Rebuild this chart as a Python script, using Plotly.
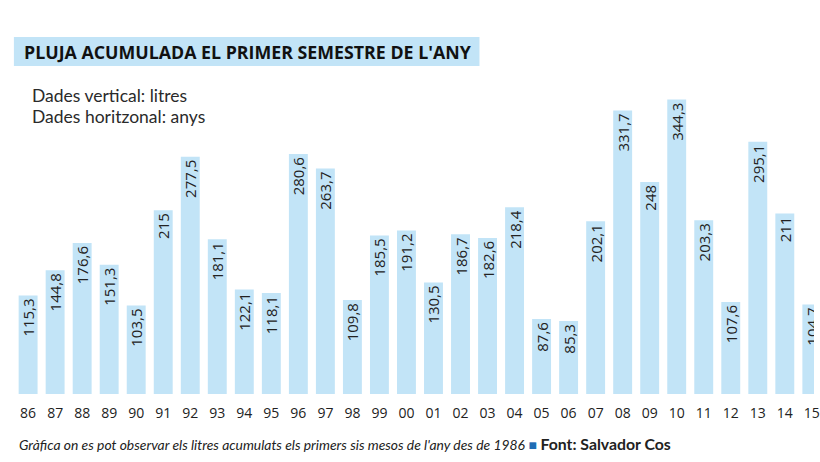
import plotly.graph_objects as go

years = ["86", "87", "88", "89", "90", "91", "92", "93", "94", "95",
         "96", "97", "98", "99", "00", "01", "02", "03", "04", "05",
         "06", "07", "08", "09", "10", "11", "12", "13", "14", "15"]
rain = [115.3, 144.8, 176.6, 151.3, 103.5, 215, 277.5, 181.1, 122.1, 118.1,
        280.6, 263.7, 109.8, 185.5, 191.2, 130.5, 186.7, 182.6, 218.4, 87.6,
        85.3, 202.1, 331.7, 248, 344.3, 203.3, 107.6, 295.1, 211, 104.7]
labels = [f"{v:g}".replace(".", ",") for v in rain]

title = "PLUJA ACUMULADA EL PRIMER SEMESTRE DE L'ANY"
subtitle = ["Dades vertical: litres", "Dades horitzonal: anys"]
footer_note = "Gràfica on es pot observar els litres acumulats els primers sis mesos de l'any des de 1986"
footer_source = "Font: Salvador Cos"

W, H = 820, 462
B = 68
PH = H - B  # plot height in px


def px(x):
    return x / W


def py(y):
    return (PH - y) / PH


fig = go.Figure(go.Bar(
    x=list(range(len(years))),
    y=rain,
    width=0.70,
    marker=dict(color="#c2e4f7", line=dict(width=0)),
    text=labels,
    textposition="inside",
    insidetextanchor="end",
    textangle=-90,
    textfont=dict(family="Open Sans", size=15, color="#222222"),
    hoverinfo="skip",
))

fig.update_layout(
    width=W, height=H,
    margin=dict(l=0, r=0, t=0, b=B),
    paper_bgcolor="white", plot_bgcolor="white",
    showlegend=False,
    uniformtext=dict(minsize=15, mode="show"),
    xaxis=dict(
        range=[-1.04, 29.08],
        tickmode="array",
        tickvals=list(range(len(years))),
        ticktext=years,
        showgrid=False, zeroline=False, showline=False, ticks="",
        tickfont=dict(family="Open Sans", size=14, color="#222222"),
        ticklabelstandoff=9,
        ticklabeloverflow="allow",
        fixedrange=True,
    ),
    yaxis=dict(
        range=[0, PH / 0.855],
        visible=False,
        fixedrange=True,
    ),
    shapes=[dict(
        type="rect", xref="paper", yref="paper",
        x0=px(14), x1=px(483), y0=py(66), y1=py(37),
        fillcolor="#c2e4f7", line=dict(width=0), layer="below",
    )],
    annotations=[
        dict(text=f"<b>{title}</b>", xref="paper", yref="paper",
             x=px(22), y=py(51.5), xanchor="left", yanchor="middle",
             showarrow=False,
             font=dict(family="Open Sans", size=17.8, color="#111111")),
        dict(text=subtitle[0], xref="paper", yref="paper",
             x=px(30), y=py(95), xanchor="left", yanchor="middle",
             showarrow=False,
             font=dict(family="Lato", size=17.5, color="#2a2a2a")),
        dict(text=subtitle[1], xref="paper", yref="paper",
             x=px(30), y=py(117), xanchor="left", yanchor="middle",
             showarrow=False,
             font=dict(family="Lato", size=17.5, color="#2a2a2a")),
        dict(text=(f"<i>{footer_note}</i> "
                   f"<span style='color:#1f6db5'>■</span> "
                   f"<b><span style='font-size:15.8px'>{footer_source}</span></b>"),
             xref="paper", yref="paper",
             x=px(17), y=py(443), xanchor="left", yanchor="middle",
             showarrow=False,
             font=dict(family="Lato", size=13.9, color="#222222")),
    ],
)

fig.write_html("out.html")
